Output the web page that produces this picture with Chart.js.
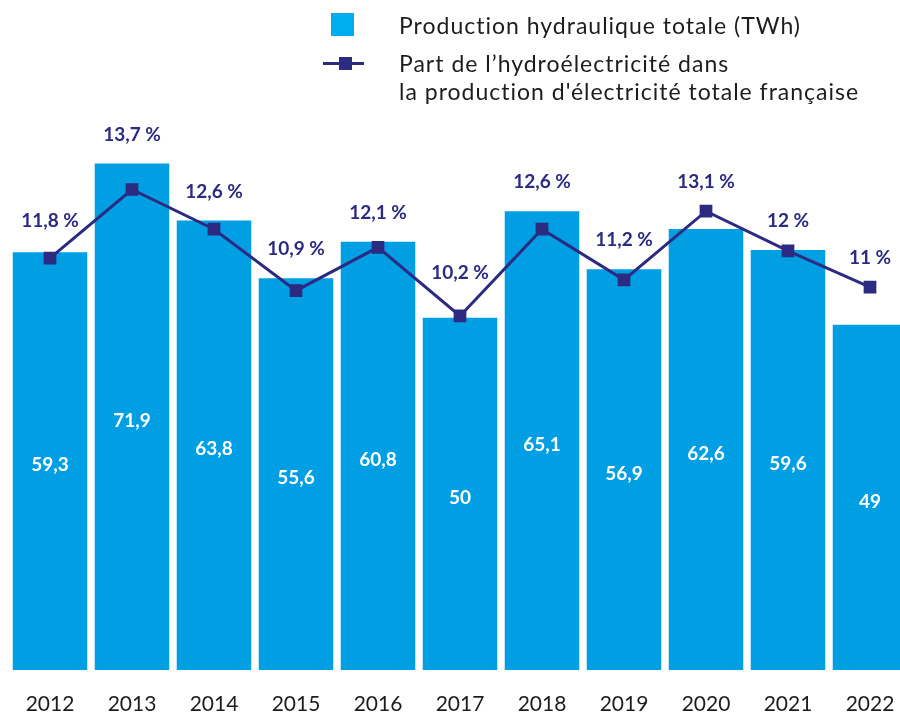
<!DOCTYPE html>
<html><head><meta charset="utf-8">
<script src="https://cdn.jsdelivr.net/npm/chart.js@4/dist/chart.umd.min.js"></script>
<style>
html,body{margin:0;padding:0;background:#fff;overflow:hidden;width:900px;height:713px;}
#wrap{position:absolute;left:0;top:0;width:920px;height:740px;}
.lg{position:absolute;font-family:Lato, sans-serif;font-size:23px;line-height:28px;color:#1d1d1b;white-space:nowrap;letter-spacing:1px;}
#sq{position:absolute;left:331px;top:13px;width:23px;height:23px;background:#00AEEF;}
#ln{position:absolute;left:323px;top:62px;width:41px;height:3px;background:#2D2A82;}
#mk{position:absolute;left:339px;top:57px;width:13px;height:13px;background:#2D2A82;}
</style></head><body>
<div id="wrap"><canvas id="c" width="920" height="740"></canvas></div>
<div id="sq"></div>
<div class="lg" style="left:399px;top:11px;">Production hydraulique totale (TWh)</div>
<div id="ln"></div><div id="mk"></div>
<div class="lg" style="left:399px;top:49px;">Part de l’hydroélectricité dans<br>la production d'électricité totale française</div>
<script>
const years = ['2012','2013','2014','2015','2016','2017','2018','2019','2020','2021','2022'];
const production = [59.3, 71.9, 63.8, 55.6, 60.8, 50, 65.1, 56.9, 62.6, 59.6, 49];
const share = [11.8, 13.7, 12.6, 10.9, 12.1, 10.2, 12.6, 11.2, 13.1, 12, 11];

const NAVY = '#2D2A82';
const BAR = '#009FE3';
const fmt = v => String(v).replace('.', ',');

const labelsPlugin = {
  id: 'valueLabels',
  afterDatasetsDraw(chart) {
    const ctx = chart.ctx;
    const bars = chart.getDatasetMeta(0).data;
    const pts = chart.getDatasetMeta(1).data;
    ctx.save();
    ctx.textAlign = 'center';
    ctx.textBaseline = 'middle';
    bars.forEach((b, i) => {
      ctx.fillStyle = '#ffffff';
      ctx.font = 'bold 19px Lato';
      ctx.fillText(fmt(production[i]), b.x, (b.y + b.base) / 2 + 4);
      const p = pts[i];
      ctx.font = 'bold 19px Lato';
      const txt = fmt(share[i]) + ' %';
      const hw = ctx.measureText(txt).width / 2;
      let cy = Math.min(b.y, p.y) - 29;
      // keep the label clear of the neighbouring line segments
      [pts[i - 1], pts[i + 1]].forEach(n => {
        if (!n) return;
        const ex = n.x < p.x ? p.x - hw : p.x + hw;
        const ly = p.y + (n.y - p.y) * (ex - p.x) / (n.x - p.x);
        const limit = ly - 6 - 7;
        if (cy > limit) cy = limit;
      });
      ctx.fillStyle = NAVY;
      ctx.fillText(txt, p.x, cy);
    });
    ctx.restore();
  }
};

function build() {
  new Chart(document.getElementById('c'), {
    type: 'bar',
    data: {
      labels: years,
      datasets: [
        {
          type: 'bar',
          label: 'Production hydraulique totale (TWh)',
          data: production,
          backgroundColor: BAR,
          borderWidth: 0,
          barPercentage: 0.909,
          categoryPercentage: 1.0,
          yAxisID: 'y',
          order: 2
        },
        {
          type: 'line',
          label: "Part de l’hydroélectricité dans la production d'électricité totale française",
          data: share,
          borderColor: NAVY,
          borderWidth: 3,
          backgroundColor: NAVY,
          pointStyle: 'rect',
          pointRadius: 9,
          pointBorderWidth: 0,
          pointBackgroundColor: NAVY,
          tension: 0,
          fill: false,
          yAxisID: 'y1',
          order: 1
        }
      ]
    },
    options: {
      responsive: false,
      devicePixelRatio: 1,
      animation: false,
      events: [],
      layout: { padding: { left: 7.25, right: 5.25, top: 106.4, bottom: 20 } },
      plugins: { legend: { display: false }, tooltip: { enabled: false }, title: { display: false } },
      scales: {
        x: {
          offset: true,
          grid: { display: false, drawTicks: false },
          border: { display: false },
          ticks: { font: { family: 'Lato', size: 21 }, color: '#1d1d1b', padding: 22, maxRotation: 0, autoSkip: false },
          afterFit(s) { s.height = 50; }
        },
        y: { display: false, min: 0, max: 80 },
        y1: { display: false, min: 0.4, max: 16, position: 'right' }
      }
    },
    plugins: [labelsPlugin]
  });
}
Promise.all([
  document.fonts.load('21px Lato'),
  document.fonts.load('bold 19px Lato'),
  document.fonts.load('23px Lato')
]).then(build, build);
</script>
</body></html>
